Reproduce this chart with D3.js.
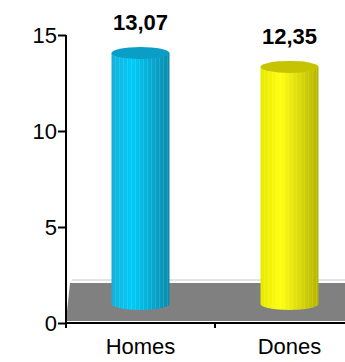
<!DOCTYPE html>
<html>
<head>
<meta charset="utf-8">
<script src="https://cdn.jsdelivr.net/npm/d3@7"></script>
<style>
  body { margin: 0; background: #fff; }
  text { font-family: "Liberation Sans", Arial, sans-serif; }
</style>
</head>
<body>
<div id="chart"></div>
<script>
const WIDTH = 345
const HEIGHT = 362

const categories = ["Homes", "Dones"]
const values = [13.07, 12.35]
const valueLabels = ["13,07", "12,35"]
const yTicks = [0, 5, 10, 15]

// colours per bar: [left, light, right, top]
const palettes = [
  ["#14b0d8", "#00ccfa", "#0a8aac", "#0a9ec6"],
  ["#e8e800", "#ffff10", "#b4b400", "#c6c400"]
]

const DEPTH = 19   // vertical 3d shift of the cylinders
const RX = 29
const RY = 6

const x = d3.scaleBand()
  .domain(categories)
  .range([66, 364])

const y = d3.scaleLinear()
  .domain([0, 15])
  .range([323, 35])

const svg = d3.select("#chart")
  .append("svg")
  .attr("width", WIDTH)
  .attr("height", HEIGHT)

const defs = svg.append("defs")
palettes.forEach((p, i) => {
  const g = defs.append("linearGradient")
    .attr("id", "body" + i)
    .attr("x1", "0%").attr("x2", "100%")
    .attr("y1", "0%").attr("y2", "0%")
  g.append("stop").attr("offset", "0%").attr("stop-color", p[0])
  g.append("stop").attr("offset", "35%").attr("stop-color", p[1])
  g.append("stop").attr("offset", "100%").attr("stop-color", p[2])
})

// floor
const floorTop = y(0) - 40
svg.append("line")
  .attr("x1", 72).attr("x2", WIDTH)
  .attr("y1", floorTop - 3).attr("y2", floorTop - 3)
  .attr("stroke", "#c8c8c8")
  .attr("stroke-width", 1)

svg.append("path")
  .attr("d", `M70,${floorTop} L${WIDTH},${floorTop} L${WIDTH},${y(0) - 2} L66,${y(0) - 2} Z`)
  .attr("fill", "#808080")

// cylinders
const bars = svg.append("g")
  .selectAll("g")
  .data(categories)
  .join("g")

bars.each(function(c, i) {
  const g = d3.select(this)
  const cx = x(c) + x.bandwidth() / 2
  const top = y(values[i]) - DEPTH
  const bottom = y(0) - DEPTH
  g.append("path")
    .attr("d", `M${cx - RX},${top} L${cx - RX},${bottom} A${RX},${RY} 0 0 0 ${cx + RX},${bottom} L${cx + RX},${top} Z`)
    .attr("fill", `url(#body${i})`)
  // faint vertical facets
  d3.range(-RX + 4, RX, 4).forEach(dx => {
    g.append("line")
      .attr("x1", cx + dx).attr("x2", cx + dx)
      .attr("y1", top).attr("y2", bottom + RY * Math.sqrt(1 - (dx / RX) ** 2))
      .attr("stroke", "#fff")
      .attr("stroke-opacity", 0.12)
      .attr("stroke-width", 1)
  })
  g.append("ellipse")
    .attr("cx", cx).attr("cy", top)
    .attr("rx", RX).attr("ry", RY)
    .attr("fill", palettes[i][3])
  g.append("text")
    .attr("x", cx)
    .attr("y", top - 23)
    .attr("text-anchor", "middle")
    .attr("font-size", 22)
    .attr("font-weight", "bold")
    .text(valueLabels[i])
})

// axes
const yAxis = svg.append("g")
  .attr("transform", "translate(66,0)")
  .call(d3.axisLeft(y).tickValues(yTicks).tickSize(8).tickPadding(1))
yAxis.select(".domain").attr("stroke", "#000").attr("stroke-width", 2)
  .attr("d", `M0,${y(15)}V${y(0) + 5}`)
yAxis.selectAll(".tick line").attr("stroke", "#000").attr("stroke-width", 2)
yAxis.selectAll("text")
  .attr("font-size", 22)
  .attr("font-family", "Liberation Sans, Arial, sans-serif")
  .attr("fill", "#000")

const xAxis = svg.append("g")
  .attr("transform", `translate(0,${y(0)})`)
  .call(d3.axisBottom(x).tickSize(0).tickPadding(0))
xAxis.select(".domain").attr("stroke", "#000").attr("stroke-width", 2)
  .attr("d", `M66,0H${WIDTH}`)
xAxis.selectAll("text")
  .attr("y", 31)
  .attr("dy", 0)
  .attr("font-size", 22)
  .attr("font-family", "Liberation Sans, Arial, sans-serif")
  .attr("fill", "#000")

// separator tick between categories
svg.append("line")
  .attr("x1", x("Dones")).attr("x2", x("Dones"))
  .attr("y1", y(0)).attr("y2", y(0) + 5)
  .attr("stroke", "#000")
  .attr("stroke-width", 2)
</script>
</body>
</html>
